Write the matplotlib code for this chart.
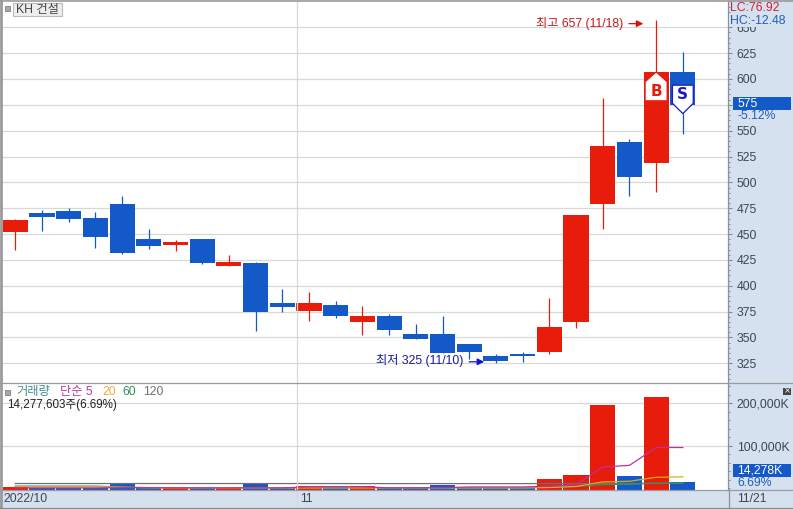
import numpy as np
import matplotlib
matplotlib.use('Agg')
import matplotlib.pyplot as plt
from matplotlib.patches import Rectangle, Polygon
from matplotlib.ticker import MultipleLocator, FixedLocator

plt.rcParams['font.family'] = ['Liberation Sans', 'Noto Sans CJK KR', 'DejaVu Sans']

# Candle data, one row per trading day
tops = [463.6, 470.4, 472.4, 465.6, 479.1, 445.3, 442.4, 445.3, 423.0, 422.0, 383.0, 383.4, 381.5,
        370.8, 370.8, 353.4, 353.4, 343.8, 332.1, 333.8, 360.2, 468.5, 535.2, 539.1, 606.8, 606.8]
bottoms = [452.0, 466.6, 464.6, 447.2, 431.7, 438.5, 439.5, 422.0, 419.2, 375.0, 379.5, 375.7, 371.1,
           365.0, 357.3, 348.6, 335.0, 336.0, 327.3, 332.1, 336.0, 365.3, 479.4, 505.5, 519.0, 575.0]
highs = [464.6, 473.3, 475.3, 471.4, 486.9, 455.0, 444.3, 445.3, 429.8, 423.0, 396.9, 394.0, 385.3,
         380.5, 372.8, 363.1, 370.8, 343.8, 334.1, 336.0, 388.2, 468.5, 581.6, 542.0, 657.0, 626.0]
lows = [434.6, 453.0, 461.7, 436.6, 430.8, 435.6, 433.7, 421.0, 419.2, 356.3, 375.0, 366.0, 368.9,
        352.5, 352.5, 348.6, 335.0, 329.2, 325.0, 326.3, 334.1, 359.2, 455.0, 487.2, 491.0, 546.8]
is_up = [1, 0, 0, 0, 0, 0, 1, 0, 1, 0, 0, 1, 0, 1, 0, 0, 0, 0, 0, 0, 1, 1, 1, 0, 1, 0]

# Volume in thousands of shares, plus moving averages
volume = [3.0, 1.5, 1.5, 1.5, 10.8, 1.5, 1.5, 1.5, 1.5, 10.8, 1.5, 4.7, 4.7, 4.7, 1.5, 3.5, 7.8,
          4.0, 4.0, 4.0, 21.9, 31.3, 196.0, 29.0, 215.0, 14.278]
ma5 = [1.0, 1.0, 1.0, 1.0, 1.5, 1.5, 1.2, 1.0, 1.0, 1.0, 1.0, 3.6, 3.6, 3.6, 1.0, 1.2, 1.5, 3.2, 3.2,
       3.2, 5.0, 8.5, 50.0, 54.0, 96.0, 96.0]
ma20 = [3.8, 3.8, 3.8, 3.8, 2.5, 1.2, 1.0, 0.8, 0.8, 0.8, 0.8, 0.8, 0.8, 0.8, 0.8, 0.8, 0.8, 0.8, 0.8,
        0.8, 1.8, 4.4, 15.0, 16.5, 26.0, 27.0]
ma60 = [5.2, 5.2, 5.2, 5.2, 3.0, 1.6, 1.5, 1.4, 1.4, 1.4, 1.4, 1.4, 1.4, 1.4, 1.4, 1.4, 1.4, 1.4, 1.4,
        1.4, 2.5, 4.0, 9.0, 9.5, 12.0, 12.5]
ma120 = [11.3, 11.3, 11.3, 11.3, 11.3, 11.3, 11.3, 11.3, 11.3, 11.2, 11.2, 11.2, 11.2, 11.1, 11.1, 11.1,
         11.1, 11.1, 11.1, 11.1, 11.2, 11.2, 11.4, 11.4, 11.8, 11.8]

price_ticks = [325, 350, 375, 400, 425, 450, 475, 500, 525, 550, 575, 600, 625, 650]
price_tick_labels = ['325', '350', '375', '400', '425', '450', '475', '500', '525', '550', '', '600', '625', '650']
volume_ticks = [100, 200]
volume_tick_labels = ['100,000K', '200,000K']

RED = '#e81c0a'
BLUE = '#1459c8'
STRIP = '#d6e1ef'
GRID = '#d8d8d8'
TICK_TEXT = '#3c4654'
FS = 8.8

W, H = 793, 509
days = np.arange(len(tops))
colors = [RED if u else BLUE for u in is_up]


def px_axes(left, top, right, bottom, z):
    return fig.add_axes([left / W, 1 - bottom / H, (right - left) / W, (bottom - top) / H], zorder=z)


fig = plt.figure(figsize=(W / 100, H / 100), dpi=100, facecolor='white')

# background strips and borders, in pixel coordinates
bg = px_axes(0, 0, W, H, 0)
bg.set_xlim(0, W)
bg.set_ylim(H, 0)
bg.axis('off')
bg.add_patch(Rectangle((729, 0), 64, 509, color=STRIP, lw=0))
bg.add_patch(Rectangle((0, 490), 793, 18, color=STRIP, lw=0))

xlim = (-0.498, 26.71)

# price panel
ax = px_axes(2, 1, 728.5, 383, 1)
ax.patch.set_alpha(0)
ax.set_xlim(xlim)
ax.set_ylim(306, 675.4)
ax.yaxis.set_major_locator(FixedLocator(price_ticks))
ax.yaxis.set_minor_locator(MultipleLocator(5))
ax.set_yticklabels(price_tick_labels)
ax.yaxis.tick_right()
ax.tick_params(axis='y', which='major', length=3, width=0.8, color='#808890', pad=3,
               labelsize=FS, labelcolor=TICK_TEXT)
ax.tick_params(axis='y', which='minor', length=1.5, width=0.7, color='#808890')
ax.set_xticks([])
ax.grid(axis='y', which='major', color=GRID, lw=0.9, zorder=0)
ax.set_axisbelow(True)
for side in ['top', 'left', 'bottom']:
    ax.spines[side].set_visible(False)
ax.spines['right'].set_color('#8a9099')
ax.spines['right'].set_linewidth(0.9)

ax.vlines(days, lows, highs, colors=colors, lw=0.9, zorder=2)
ax.bar(days, np.array(tops) - np.array(bottoms), bottom=bottoms, width=0.94, color=colors, lw=0, zorder=3)

# volume panel
vol_floor = -2.8
vax = px_axes(2, 384, 728.5, 489.5, 1)
vax.patch.set_alpha(0)
vax.set_xlim(xlim)
vax.set_ylim(vol_floor, 245.4)
vax.yaxis.set_major_locator(FixedLocator(volume_ticks))
vax.yaxis.set_minor_locator(MultipleLocator(20))
vax.set_yticklabels(volume_tick_labels)
vax.yaxis.tick_right()
vax.tick_params(axis='y', which='major', length=3, width=0.8, color='#808890', pad=3,
                labelsize=FS, labelcolor=TICK_TEXT)
vax.tick_params(axis='y', which='minor', length=1.5, width=0.7, color='#808890')
vax.set_xticks([])
vax.grid(axis='y', which='major', color=GRID, lw=0.9, zorder=0)
vax.set_axisbelow(True)
for side in ['top', 'left', 'bottom']:
    vax.spines[side].set_visible(False)
vax.spines['right'].set_color('#8a9099')
vax.spines['right'].set_linewidth(0.9)

vax.bar(days, np.array(volume) - vol_floor, bottom=vol_floor, width=0.94, color=colors, lw=0, zorder=2)
vax.plot(days, ma120, color='#707070', lw=0.9, zorder=3)
vax.plot(days, ma60, color='#2e9a5a', lw=0.9, zorder=3)
vax.plot(days, ma20, color='#e0a820', lw=0.9, zorder=3)
vax.plot(days, ma5, color='#c030a0', lw=0.9, zorder=3)

# buy and sell signal markers, placed from the candle tops
ax.add_patch(Polygon([(24, 606.0), (24.39, 597.0), (24.39, 579.5), (23.61, 579.5), (23.61, 597.0)],
                     closed=True, facecolor='white', edgecolor='none', zorder=4))
ax.text(24, 587.5, 'B', color=RED, fontsize=11, fontweight='bold', family='DejaVu Sans',
        ha='center', va='center', zorder=5)
ax.add_patch(Polygon([(24.61, 594.0), (25.39, 594.0), (25.39, 576.5), (25, 566.5), (24.61, 576.5)],
                     closed=True, facecolor='white', edgecolor='#1a1ac8', lw=0.9, zorder=4))
ax.text(25, 585.0, 'S', color='#1a1ac8', fontsize=11, fontweight='bold', family='DejaVu Sans',
        ha='center', va='center', zorder=5)

# high and low callouts
ax.annotate('최고 657 (11/18)', xy=(22.76, highs[24] - 3.5), ha='right', va='center', color='#c8161c', fontsize=FS)
ax.annotate('', xy=(23.52, highs[24] - 3.5), xytext=(22.98, highs[24] - 3.5),
            arrowprops=dict(arrowstyle='-|>', color='#d81010', lw=0.9, mutation_scale=10, shrinkA=0, shrinkB=0))
ax.annotate('최저 325 (11/10)', xy=(16.77, lows[18] + 2.5), ha='right', va='center', color='#1a1a9a', fontsize=FS)
ax.annotate('', xy=(17.56, lows[18] + 1.5), xytext=(17.0, lows[18] + 1.5),
            arrowprops=dict(arrowstyle='-|>', color='#1010d8', lw=0.9, mutation_scale=10, shrinkA=0, shrinkB=0))

# overlay: borders, labels, value boxes in pixel coordinates
ov = px_axes(0, 0, W, H, 2)
ov.patch.set_alpha(0)
ov.set_xlim(0, W)
ov.set_ylim(H, 0)
ov.axis('off')
ov.plot([0, 793], [0.5, 0.5], color='#9a9a9a', lw=1.2)
ov.plot([0.8, 0.8], [0, 508], color='#9a9a9a', lw=2)
ov.plot([0, 793], [383.3, 383.3], color='#9a9a9a', lw=0.9)
ov.plot([0, 793], [489.8, 489.8], color='#9a9aa0', lw=0.9)
ov.plot([0, 793], [508, 508], color='#8a8a8a', lw=0.9)
ov.plot([728.5, 728.5], [489.8, 508], color='#8a9099', lw=0.9)
ov.plot([297, 297], [1, 508], color=GRID, lw=0.9, zorder=0.5)

ov.add_patch(Rectangle((5, 6), 5, 5, facecolor='#a8a8a8', edgecolor='#808080', lw=0.6))
ov.add_patch(Rectangle((12.5, 3), 49, 13, facecolor='#eeeeee', edgecolor='#bcbcbc', lw=0.8))
ov.text(16, 10.2, 'KH 건설', color='#444444', fontsize=FS, va='center')

ov.text(730, 8, 'LC:76.92', color='#d02030', fontsize=FS, va='center')
ov.text(730, 20.5, 'HC:-12.48', color='#1f5fb8', fontsize=FS, va='center',
        bbox=dict(facecolor=STRIP, edgecolor='none', pad=0.6))

ov.add_patch(Rectangle((733, 97), 58, 13, facecolor=BLUE, lw=0))
ov.text(737, 103.5, '575', color='white', fontsize=FS, va='center')
ov.text(737, 116, '-5.12%', color='#1f5fb8', fontsize=FS, va='center')

ov.add_patch(Rectangle((733, 464), 58, 13, facecolor=BLUE, lw=0))
ov.text(737, 470.5, '14,278K', color='white', fontsize=FS, va='center')
ov.text(737, 482.5, '6.69%', color='#1f5fb8', fontsize=FS, va='center')
ov.text(737, 498.5, '11/21', color=TICK_TEXT, fontsize=FS, va='center')

ov.add_patch(Rectangle((783, 388), 8, 6.5, facecolor='#444444', lw=0))
ov.text(787, 391, '×', color='white', fontsize=6, ha='center', va='center', family='DejaVu Sans')

ov.add_patch(Rectangle((5, 390), 5, 5, facecolor='#a8a8a8', edgecolor='#808080', lw=0.6))
ov.text(16, 392, '거래량', color='#3f8f90', fontsize=FS, va='center')
ov.text(60, 392, '단순 5', color='#b53a9c', fontsize=FS, va='center')
ov.text(102, 392, '20', color='#e0b040', fontsize=FS, va='center')
ov.text(122, 392, '60', color='#2f8f5f', fontsize=FS, va='center')
ov.text(143, 392, '120', color='#707070', fontsize=FS, va='center')
ov.text(7, 405, '14,277,603주(6.69%)', color='#222222', fontsize=8.4, va='center')

ov.text(3, 498.5, '2022/10', color=TICK_TEXT, fontsize=FS, va='center')
ov.text(300, 498.5, '11', color=TICK_TEXT, fontsize=FS, va='center')

fig.savefig('out.png', dpi=100, facecolor='white')
